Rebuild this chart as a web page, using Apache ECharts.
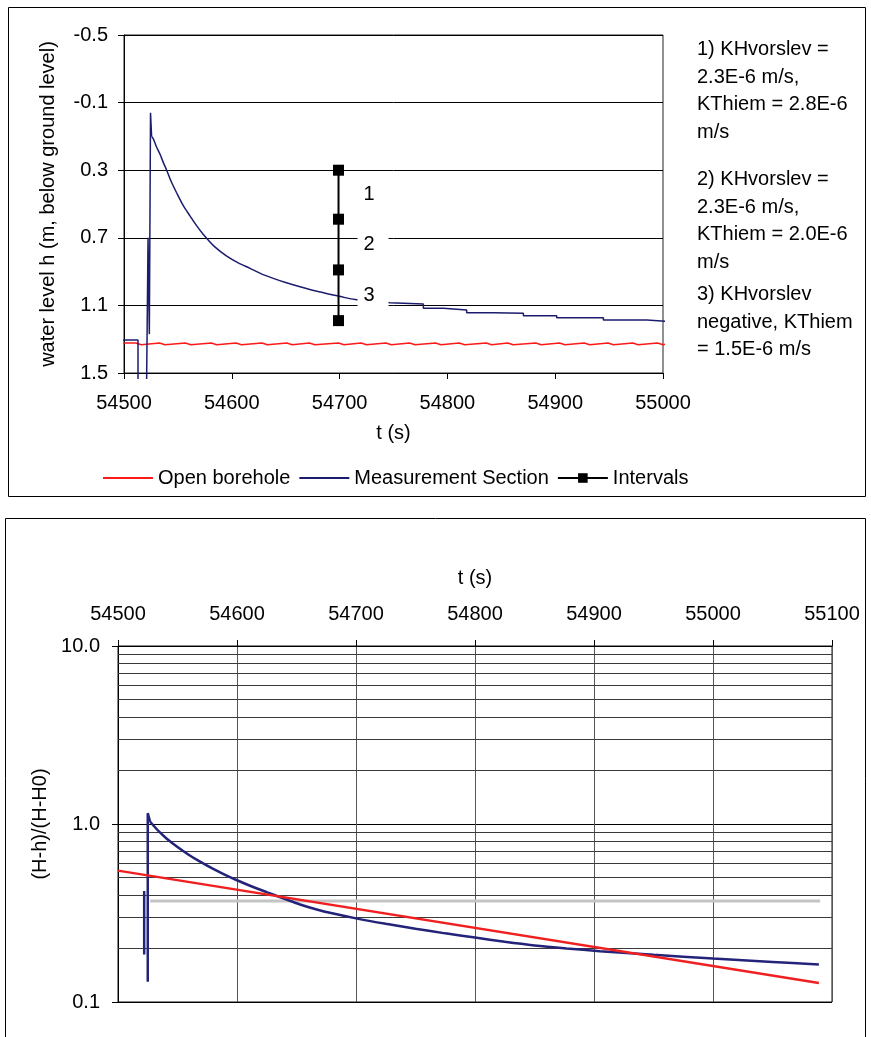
<!DOCTYPE html>
<html><head><meta charset="utf-8">
<script src="https://cdn.jsdelivr.net/npm/echarts@6/dist/echarts.min.js"></script>
<style>html,body{margin:0;padding:0;background:#fff}#c{width:871px;height:1037px}</style>
</head><body><div id="c"></div>
<script>
const FONT = "'Liberation Sans', Arial, sans-serif";

// ---------- Top chart data ----------
// Open borehole (red), step-shaped level with small notches
const boreholeT = [54494,54511,54516,54533,54538,54557,54562,54581,54586,54604,54609,54628,54633,54651,54656,54672,54677,54699,54704,54720,54725,54743,54748,54765,54770,54789,54794,54811,54816,54836,54841,54856,54861,54882,54887,54904,54909,54927,54932,54949,54954,54972,54977,54995,55000,55008];
const boreholeH = [1.322,1.333,1.322,1.333,1.322,1.333,1.322,1.333,1.322,1.333,1.322,1.333,1.322,1.333,1.322,1.333,1.322,1.333,1.322,1.333,1.322,1.333,1.322,1.333,1.322,1.333,1.322,1.333,1.322,1.333,1.322,1.333,1.322,1.333,1.322,1.333,1.322,1.333,1.322,1.333,1.322,1.333,1.322,1.333,1.322,1.322];
// Measurement section (blue): pressure spike at packer inflation
const sectionSpikeT = [54494,54513,54513,54517,54521,54522.3,54523.5,54524.6,54525.6];
const sectionSpikeH = [1.305,1.305,1.535,'-',1.535,0.70,1.27,-0.04,0.10];
// Measurement section (blue): recovery curve
const sectionDecayT = [54525.6,54527.2,54530,54533.4,54536.5,54539.6,54544,54548.9,54555,54561.2,54567,54573.6,54584,54595.3,54606,54616.9,54627,54638.5,54650,54663.3,54678,54694,54705,54716,54730];
const sectionDecayH = [0.10,0.115,0.16,0.205,0.255,0.30,0.37,0.435,0.51,0.57,0.625,0.68,0.752,0.808,0.848,0.881,0.912,0.940,0.965,0.990,1.015,1.038,1.054,1.066,1.076];
// Measurement section (blue): stepped tail
const sectionTailT = [54730,54746.8,54746.8,54777.7,54777.7,54796.3,54796.3,54817.9,54817.9,54842.6,54842.6,54870.5,54870.5,54901.4,54901.4,54944.7,54944.7,54985,54985,55008];
const sectionTailH = [1.076,1.085,1.092,1.092,1.117,1.117,1.127,1.127,1.143,1.143,1.146,1.146,1.161,1.161,1.173,1.173,1.186,1.186,1.196,1.196];
// Intervals (black markers)
const intervalT = [54699,54699,54699,54699];
const intervalH = [0.30,0.59,0.89,1.19];
const intervalNames = ['1','2','3'];
const intervalLabelT = [54731,54731,54731];
const intervalLabelH = [0.445,0.74,1.04];
const topXTicks = {min:54500,max:55000,step:100};
const topYTicks = {min:-0.5,max:1.5,step:0.4};
const noteTexts = [
  "1) KHvorslev =\n2.3E-6 m/s,\nKThiem = 2.8E-6\nm/s",
  "2) KHvorslev =\n2.3E-6 m/s,\nKThiem = 2.0E-6\nm/s",
  "3) KHvorslev\nnegative, KThiem\n= 1.5E-6 m/s"
];
const noteTops = [36, 166, 281];

// ---------- Bottom chart data ----------
const normSpikeT = [54522,54522,54523,54525,54525,54527];
const normSpikeV = [0.185,0.42,'-',0.13,1.15,1.03];
const normDecayT = [54527,54535,54541,54550,54560,54569,54580,54590,54600,54612,54625,54640,54653,54667,54680,54700,54725,54750,54775,54800,54825,54850,54877,54905,54950,55000,55050,55089];
const normDecayV = [1.03,0.899,0.827,0.743,0.668,0.614,0.559,0.518,0.483,0.447,0.414,0.380,0.353,0.331,0.315,0.295,0.275,0.258,0.243,0.230,0.218,0.208,0.200,0.193,0.184,0.1755,0.168,0.1625];
const fitT = [54500,55089];
const fitV = [0.547,0.128];
const refT = [54527,55090];
const refV = [0.369,0.369];
const minorLogLines = [0.2,0.3,0.4,0.5,0.6,0.7,0.8,0.9,2,3,4,5,6,7,8,9];
const botXTicks = {min:54500,max:55100,step:100};

const zip = (a,b) => a.map((v,i)=>[v,b[i]]);
const txt = {color:'#000', fontSize:20, fontFamily:FONT};
const BLUE = '#1c1c6e';

const chart = echarts.init(document.getElementById('c'), null, {renderer:'canvas'});
chart.setOption({
  animation:false,
  backgroundColor:'#fff',
  textStyle:{fontFamily:FONT},
  grid:[
    {left:124, top:35, width:539, height:338, show:true, borderColor:'#222', borderWidth:1, backgroundColor:'transparent'},
    {left:118, top:646, width:714, height:356, show:true, borderColor:'#111', borderWidth:1, backgroundColor:'transparent'}
  ],
  legend:{
    left:97, top:463, itemWidth:50, itemHeight:12, itemGap:8,
    textStyle:{color:'#000', fontSize:20, fontFamily:FONT},
    data:[
      {name:'Open borehole', itemStyle:{opacity:0}},
      {name:'Measurement Section', itemStyle:{opacity:0}},
      {name:'Intervals'}
    ]
  },
  xAxis:[
    {type:'value', gridIndex:0, min:topXTicks.min, max:topXTicks.max, interval:topXTicks.step,
     axisLine:{onZero:false, lineStyle:{color:'#000',width:1}}, axisTick:{show:true,inside:false,length:6,lineStyle:{color:'#000'}},
     axisLabel:Object.assign({margin:20, formatter:v=>String(v)}, txt), splitLine:{show:false},
     name:'t (s)', nameLocation:'middle', nameGap:50, nameTextStyle:txt},
    {type:'value', gridIndex:1, position:'top', min:botXTicks.min, max:botXTicks.max, interval:botXTicks.step,
     axisLine:{onZero:false, lineStyle:{color:'#000',width:1}}, axisTick:{show:true,inside:false,length:6,lineStyle:{color:'#000'}},
     axisLabel:Object.assign({margin:22, formatter:v=>String(v)}, txt), splitLine:{show:true,lineStyle:{color:'#555',width:1}},
     name:'t (s)', nameLocation:'middle', nameGap:58, nameTextStyle:txt}
  ],
  yAxis:[
    {type:'value', gridIndex:0, inverse:true, min:topYTicks.min, max:topYTicks.max, interval:topYTicks.step,
     axisLine:{show:true, onZero:false, lineStyle:{color:'#000',width:1}}, axisTick:{show:true,inside:false,length:6,lineStyle:{color:'#000'}},
     axisLabel:Object.assign({margin:16, formatter:v=>(+v).toFixed(1)}, txt),
     splitLine:{show:true,lineStyle:{color:'#000',width:1}},
     name:'water level h (m, below ground level)', nameLocation:'middle', nameGap:66, nameTextStyle:txt},
    {type:'log', logBase:10, gridIndex:1, min:0.1, max:10,
     axisLine:{show:true, onZero:false, lineStyle:{color:'#000',width:1}}, axisTick:{show:true,inside:false,length:6,lineStyle:{color:'#000'}},
     axisLabel:Object.assign({margin:18, formatter:v=>(+v).toFixed(1)}, txt),
     splitLine:{show:true,lineStyle:{color:'#000',width:1}},
     name:'(H-h)/(H-H0)', nameLocation:'middle', nameGap:65, nameTextStyle:txt}
  ],
  series:[
    {name:'Open borehole', type:'line', xAxisIndex:0, yAxisIndex:0, data:zip(boreholeT,boreholeH),
     step:'end', symbol:'none', clip:false, lineStyle:{color:'#ff1a1a',width:1.5}, itemStyle:{color:'#ff1a1a'}, z:3},
    {name:'Measurement Section', type:'line', xAxisIndex:0, yAxisIndex:0, data:zip(sectionSpikeT,sectionSpikeH),
     connectNulls:false, symbol:'none', clip:false, lineStyle:{color:BLUE,width:1.5}, itemStyle:{color:BLUE}, z:4},
    {name:'Measurement Section', type:'line', xAxisIndex:0, yAxisIndex:0, data:zip(sectionDecayT,sectionDecayH),
     smooth:0.3, symbol:'none', clip:false, lineStyle:{color:BLUE,width:1.5}, itemStyle:{color:BLUE}, z:4},
    {name:'Measurement Section', type:'line', xAxisIndex:0, yAxisIndex:0, data:zip(sectionTailT,sectionTailH),
     symbol:'none', clip:false, lineStyle:{color:BLUE,width:1.5}, itemStyle:{color:BLUE}, z:4},
    {name:'Intervals', type:'line', xAxisIndex:0, yAxisIndex:0, data:zip(intervalT,intervalH),
     symbol:'rect', symbolSize:11, lineStyle:{color:'#000',width:2}, itemStyle:{color:'#000'}, z:5},
    {name:'labels', type:'scatter', xAxisIndex:0, yAxisIndex:0,
     data:intervalLabelT.map((t,i)=>({value:[t,intervalLabelH[i]], name:intervalNames[i]})),
     symbol:'rect', symbolSize:[31,24], itemStyle:{color:'#fff', opacity:1}, z:10,
     label:{show:true, position:'inside', offset:[-4,0], formatter:p=>p.name, color:'#000', fontSize:20, fontFamily:FONT}},
    {name:'norm', type:'line', xAxisIndex:1, yAxisIndex:1, data:zip(normSpikeT,normSpikeV), connectNulls:false,
     symbol:'none', lineStyle:{color:'#23237a',width:2.5}, z:5},
    {name:'norm2', type:'line', xAxisIndex:1, yAxisIndex:1, data:zip(normDecayT,normDecayV),
     smooth:0.3, symbol:'none', lineStyle:{color:'#23237a',width:2.5}, z:5},
    {name:'fit', type:'line', xAxisIndex:1, yAxisIndex:1, data:zip(fitT,fitV),
     symbol:'none', lineStyle:{color:'#f02020',width:2.5}, z:6},
    {name:'ref', type:'line', xAxisIndex:1, yAxisIndex:1, data:zip(refT,refV),
     symbol:'none', lineStyle:{color:'#c4c4c4',width:3}, z:4,
     markLine:{silent:true, symbol:['none','none'], label:{show:false}, animation:false,
       lineStyle:{color:'#3a3a3a',width:1,type:'solid'},
       data:minorLogLines.map(v=>({yAxis:v}))}}
  ],
  graphic:[
    {type:'rect', shape:{x:8.5,y:7.5,width:857,height:489}, style:{fill:null,stroke:'#000',lineWidth:1}, silent:true},
    {type:'rect', shape:{x:5.5,y:518.5,width:860,height:540}, style:{fill:null,stroke:'#000',lineWidth:1}, silent:true}
  ].concat(noteTexts.map((t,i)=>({type:'text', x:697, y:noteTops[i],
     style:{text:t, fill:'#000', fontSize:20, fontFamily:FONT, lineHeight:27.5}})))
});
</script></body></html>
